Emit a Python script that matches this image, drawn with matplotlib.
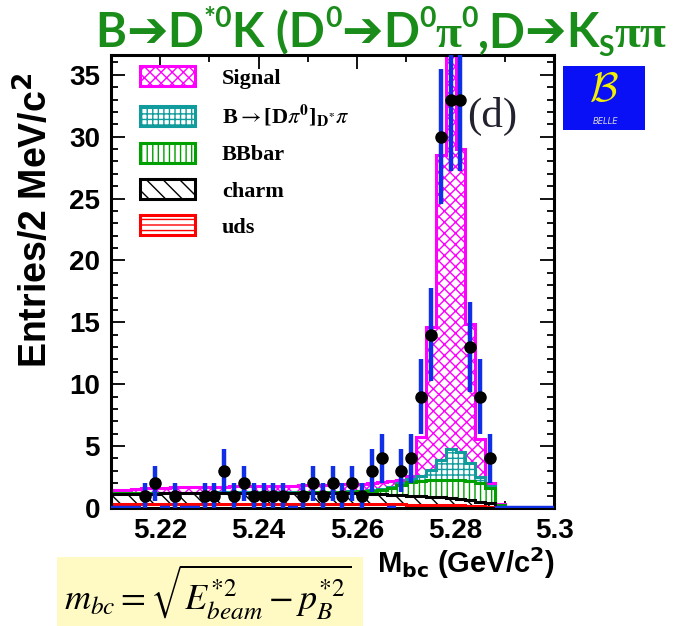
import numpy as np
import matplotlib
matplotlib.use("Agg")
import matplotlib.pyplot as plt
from matplotlib.patches import Patch, Rectangle
from matplotlib.ticker import MultipleLocator
from matplotlib.font_manager import FontProperties

# 2 MeV bins of M_bc, 5.21 - 5.30 GeV/c^2
bin_edges = np.linspace(5.21, 5.30, 46)
bin_centers = 0.5 * (bin_edges[:-1] + bin_edges[1:])

# observed entries per bin
data_counts = np.array([
    0, 0, 0, 1, 2, 0, 1, 0, 0, 1,
    1, 3, 1, 2, 1, 1, 1, 1, 0, 1,
    2, 1, 2, 1, 2, 1, 3, 4, 0, 3,
    4, 9, 14, 30, 33, 33, 13, 9, 4, 0,
    0, 0, 0, 0, 0])

# MC components (per bin), stacked from the bottom up
uds = [0.36, 0.36, 0.36, 0.35, 0.35, 0.35, 0.35, 0.35, 0.35, 0.34,
       0.34, 0.34, 0.34, 0.34, 0.33, 0.33, 0.33, 0.33, 0.33, 0.32,
       0.32, 0.32, 0.32, 0.31, 0.31, 0.31, 0.30, 0.30, 0.29, 0.29,
       0.28, 0.27, 0.26, 0.25, 0.24, 0.22, 0.20, 0.17, 0.12, 0.02,
       0, 0, 0, 0, 0]
charm = [0.79, 0.80, 0.80, 0.82, 0.82, 0.83, 0.83, 0.83, 0.84, 0.85,
         0.85, 0.86, 0.86, 0.86, 0.87, 0.87, 0.87, 0.87, 0.87, 0.88,
         0.88, 0.87, 0.87, 0.87, 0.87, 0.86, 0.84, 0.81, 0.79, 0.76,
         0.72, 0.68, 0.64, 0.60, 0.54, 0.48, 0.42, 0.35, 0.28, 0.08,
         0, 0, 0, 0, 0]
bbbar = [0.04, 0.04, 0.04, 0.04, 0.04, 0.04, 0.04, 0.04, 0.04, 0.04,
         0.04, 0.04, 0.04, 0.04, 0.04, 0.04, 0.05, 0.05, 0.05, 0.06,
         0.06, 0.08, 0.09, 0.12, 0.14, 0.18, 0.26, 0.37, 0.52, 0.80,
         1.10, 1.25, 1.35, 1.42, 1.49, 1.55, 1.58, 1.48, 1.20, 0.15,
         0, 0, 0, 0, 0]
dpi0_feed = [0.02, 0.02, 0.02, 0.02, 0.02, 0.02, 0.02, 0.02, 0.02, 0.02,
             0.02, 0.02, 0.02, 0.02, 0.02, 0.02, 0.02, 0.02, 0.02, 0.02,
             0.02, 0.02, 0.02, 0.03, 0.03, 0.05, 0.07, 0.09, 0.12, 0.15,
             0.25, 0.35, 0.81, 1.63, 2.53, 2.25, 1.40, 0.50, 0.15, 0.03,
             0, 0, 0, 0, 0]
signal = [0.24, 0.23, 0.28, 0.39, 0.42, 0.41, 0.43, 0.44, 0.45, 0.45,
          0.47, 0.47, 0.49, 0.49, 0.50, 0.51, 0.51, 0.53, 0.53, 0.54,
          0.57, 0.57, 0.58, 0.57, 0.57, 0.55, 0.53, 0.53, 0.48, 0.30,
          0.20, 3.20, 11.54, 24.6, 36.2, 24.5, 11.3, 3.1, 0.25, 0.02,
          0, 0, 0, 0, 0]

legend_labels = ["Signal", r"B$\rightarrow$[D$\pi^{\mathbf{0}}$]$_{\mathbf{D^{*}}}\pi$",
                 "BBbar", "charm", "uds"]
x_ticks = [5.22, 5.24, 5.26, 5.28, 5.30]
x_tick_labels = ["5.22", "5.24", "5.26", "5.28", "5.3"]
y_ticks = [0, 5, 10, 15, 20, 25, 30, 35]

# (values, colour, hatch) bottom -> top
components = [
    (uds, "#ff0000", "---"),
    (charm, "#000000", "\\\\"),
    (bbbar, "#00a000", "|||"),
    (dpi0_feed, "#109c9c", "+++"),
    (signal, "#ff00ff", "xxx"),
]

plt.rcParams["hatch.linewidth"] = 1.0
W, H = 683, 626
fig = plt.figure(figsize=(W / 100, H / 100), dpi=100)
ax = fig.add_axes([111 / W, 118 / H, 443 / W, 453 / H])

# ROOT-style stack: each cumulative histogram drawn from zero, largest first
cumulative = np.cumsum([np.array(c[0]) for c in components], axis=0)
for i in reversed(range(len(components))):
    _, color, hatch = components[i]
    ax.stairs(cumulative[i], bin_edges, baseline=0, fill=True,
              facecolor="white", edgecolor=color, hatch=hatch,
              linewidth=2.2, zorder=2 + (len(components) - i) * 0.1)

# data points with Poisson errors
ax.errorbar(bin_centers, data_counts, yerr=np.sqrt(data_counts), xerr=0.001,
            fmt="none", ecolor="#1030e8", elinewidth=3.2, capsize=0, zorder=5)
nonzero = data_counts > 0
ax.plot(bin_centers[nonzero], data_counts[nonzero], "o", color="black",
        markersize=8, zorder=6)

ax.set_xlim(5.21, 5.30)
ax.set_ylim(0, 36.6)
ax.set_xticks(x_ticks)
ax.set_xticklabels(x_tick_labels)
ax.set_yticks(y_ticks)
ax.xaxis.set_minor_locator(MultipleLocator(0.01))
ax.yaxis.set_minor_locator(MultipleLocator(1))
ax.tick_params(which="both", direction="in", top=True, right=True, width=1.3)
ax.tick_params(which="major", length=10)
ax.tick_params(which="minor", length=5)
ax.tick_params(axis="y", pad=8)
ax.tick_params(axis="x", pad=7)
for lab in ax.get_xticklabels() + ax.get_yticklabels():
    lab.set_fontfamily("Liberation Sans")
    lab.set_fontweight("bold")
    lab.set_fontsize(20)
for sp in ax.spines.values():
    sp.set_linewidth(2.2)

# legend
handles = [Patch(facecolor="white", edgecolor=c[1], hatch=c[2], linewidth=2.2)
           for c in reversed(components)]
leg_font = FontProperties(family="Liberation Serif", weight="bold", size=16,
                          math_fontfamily="stix")
ax.legend(handles, legend_labels, loc="upper left", bbox_to_anchor=(0.065, 0.975),
          frameon=False, borderpad=0, borderaxespad=0, handlelength=2.5,
          handleheight=1.0, labelspacing=0.62, handletextpad=1.2, prop=leg_font)

ax.text(0.805, 0.865, "(d)", transform=ax.transAxes, fontsize=31,
        family="Liberation Serif", color="#22222e", va="center")

# axis titles
fig.text(36 / W, 1 - 220 / H, r"Entries/2 MeV/c$^{\mathbf{2}}$", rotation=90,
         ha="center", va="center", fontsize=27, fontweight="bold",
         family="Liberation Sans")
fig.text(555 / W, 1 - 563 / H, r"M$_{\mathbf{bc}}$ (GeV/c$^{\mathbf{2}}$)",
         ha="right", va="center", fontsize=21, fontweight="bold",
         family="Liberation Sans")

# title assembled piece by piece: (text, kind)
title_parts = [("B", "n"), ("➔", "a"), ("D", "n"), ("*0", "sup"), ("K (D", "n"),
               ("0", "sup"), ("➔", "a"), ("D", "n"), ("0", "sup"), ("π", "g"),
               ("0", "sup"), (",D", "n"), ("➔", "a"), ("K", "n"), ("S", "sub"),
               ("ππ", "g")]
title_size = 34
green = "#1a8c1a"
renderer = fig.canvas.get_renderer()
x_px, base_px = 95, H - 47
for text, kind in title_parts:
    size, dy, fam = title_size, 0, ["Lato", "DejaVu Sans"]
    if kind == "sup":
        size, dy = title_size * 0.6, title_size * 0.42
    elif kind == "sub":
        size, dy = title_size * 0.6, -title_size * 0.2
    elif kind == "a":
        fam = ["DejaVu Sans"]
        size = title_size * 1.05
    elif kind == "g":
        fam = ["Liberation Serif"]
    t = fig.text(x_px / W, (base_px + dy * 100 / 72) / H, text, fontsize=size,
                 fontweight="bold", color=green, family=fam,
                 ha="left", va="baseline")
    x_px += t.get_window_extent(renderer).width

# Belle logo
logo = fig.add_axes([563 / W, 1 - 130 / H, 82 / W, 64 / H])
logo.set_facecolor("#0a10f5")
logo.set_xticks([])
logo.set_yticks([])
for sp in logo.spines.values():
    sp.set_visible(False)
logo.text(0.5, 0.64, r"$\mathcal{B}$", transform=logo.transAxes, ha="center",
          va="center", fontsize=30, color="#f2f000", math_fontfamily="cm")
logo.text(0.52, 0.13, "BELLE", transform=logo.transAxes, ha="center",
          va="center", fontsize=6, color="#d8d8d8", style="italic")

# m_bc definition box
fig.patches.append(Rectangle((57 / W, 0), 306 / W, 69 / H, transform=fig.transFigure,
                             facecolor="#fffac4", edgecolor="none", zorder=0))
fig.text(208 / W, 1 - 592 / H, r"$m_{bc} = \sqrt{E_{beam}^{*2} - p_{B}^{*2}}$",
         ha="center", va="center", fontsize=26, math_fontfamily="stix")

fig.savefig("out.png", dpi=100)
